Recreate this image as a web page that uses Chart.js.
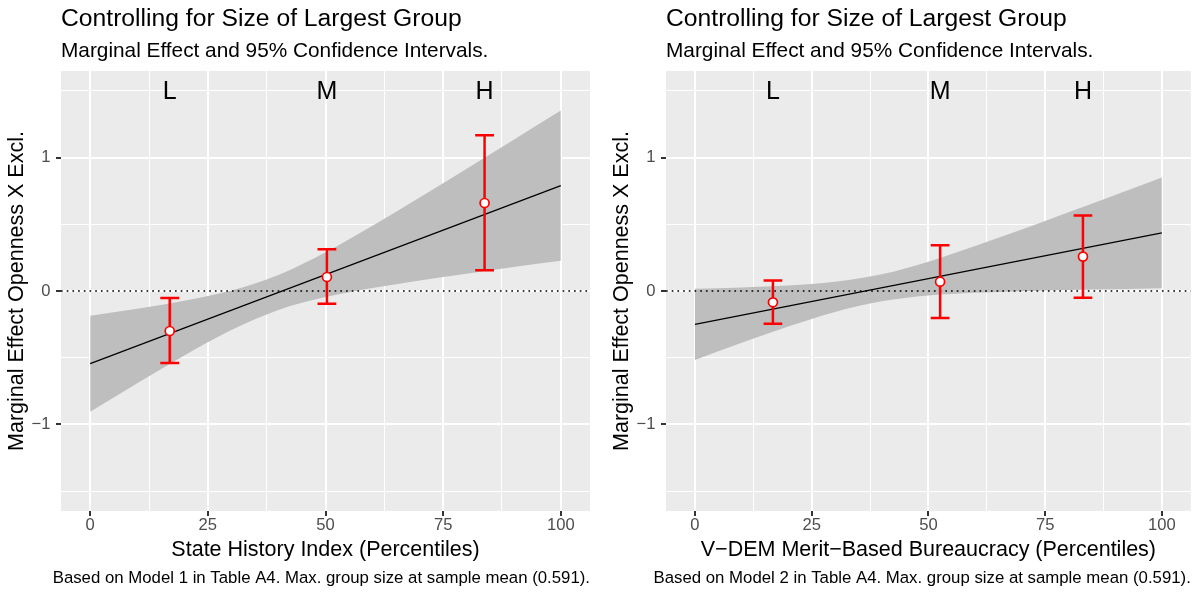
<!DOCTYPE html>
<html>
<head>
<meta charset="utf-8">
<script src="https://cdn.jsdelivr.net/npm/chart.js@4/dist/chart.umd.min.js"></script>
<style>
  body { margin: 0; background: #ffffff; }
  canvas { position: absolute; top: 0; }
</style>
</head>
<body>
<canvas id="left" width="605" height="592" style="left:0px"></canvas>
<canvas id="right" width="592" height="592" style="left:605px"></canvas>
<script>
// axis ticks and ranges
const xMajor = [0, 25, 50, 75, 100];
const xMinor = [12.5, 37.5, 62.5, 87.5];
const yMajor = [-1, 0, 1];
const yMinor = [-1.5, -0.5, 0.5, 1.5];
const xRange = [-6.2, 106.2];
const yRange = [-1.65, 1.65];
const groupLabels = ['L', 'M', 'H'];

// prediction line + confidence band, sampled along x
const ribbonX = [0, 10, 20, 30, 40, 50, 60, 70, 80, 90, 100];
const fitX = [0, 100];

// left panel: State History Index
const leftFit = [-0.545, 0.79];
const leftRibbonLo = [-0.905, -0.691, -0.483, -0.293, -0.142, -0.045, 0.022, 0.079, 0.130, 0.180, 0.227];
const leftRibbonHi = [-0.185, -0.133, -0.073, 0.003, 0.120, 0.291, 0.490, 0.701, 0.916, 1.134, 1.353];
const leftGroupX = [16.9, 50.3, 83.8];
const leftEst = [-0.30, 0.105, 0.66];
const leftLo = [-0.54, -0.095, 0.155];
const leftHi = [-0.053, 0.313, 1.168];

// right panel: V-DEM merit-based bureaucracy
const rightFit = [-0.25, 0.436];
const rightRibbonLo = [-0.517, -0.389, -0.267, -0.157, -0.077, -0.034, -0.013, -0.001, 0.008, 0.014, 0.020];
const rightRibbonHi = [0.017, 0.027, 0.041, 0.069, 0.125, 0.220, 0.337, 0.461, 0.590, 0.720, 0.852];
const rightGroupX = [16.7, 52.5, 83.1];
const rightEst = [-0.085, 0.07, 0.258];
const rightLo = [-0.246, -0.203, -0.05];
const rightHi = [0.078, 0.343, 0.566];

const FONT = "'Liberation Sans', Arial, Helvetica, sans-serif";
const minus = v => String(v).replace('-', '\u2212');

// panel background, error bars, group letters, titles
const panelPlugin = {
  id: 'panel',
  beforeDraw(chart) {
    const a = chart.chartArea, ctx = chart.ctx;
    ctx.save();
    ctx.fillStyle = '#EBEBEB';
    ctx.fillRect(a.left, a.top, a.right - a.left, a.bottom - a.top);
    ctx.restore();
  },
  beforeDatasetDraw(chart, args, opts) {
    if (args.index !== 4) return;
    const ctx = chart.ctx, xs = chart.scales.x, ys = chart.scales.y;
    ctx.save();
    ctx.strokeStyle = '#FF0000';
    ctx.lineWidth = 2.5;
    opts.groupX.forEach((gx, i) => {
      const px = xs.getPixelForValue(gx);
      const w = xs.getPixelForValue(gx + 2) - px;
      const top = ys.getPixelForValue(opts.hi[i]);
      const bot = ys.getPixelForValue(opts.lo[i]);
      ctx.beginPath();
      ctx.moveTo(px, top); ctx.lineTo(px, bot);
      ctx.moveTo(px - w, top); ctx.lineTo(px + w, top);
      ctx.moveTo(px - w, bot); ctx.lineTo(px + w, bot);
      ctx.stroke();
    });
    ctx.restore();
  },
  afterDraw(chart, args, opts) {
    const ctx = chart.ctx, a = chart.chartArea, xs = chart.scales.x, ys = chart.scales.y;
    ctx.save();
    ctx.fillStyle = '#000000';
    ctx.textAlign = 'center';
    ctx.textBaseline = 'middle';
    ctx.font = `25px ${FONT}`;
    groupLabels.forEach((t, i) => {
      ctx.fillText(t, xs.getPixelForValue(opts.groupX[i]), ys.getPixelForValue(1.5) + 1.5);
    });
    ctx.textBaseline = 'alphabetic';
    ctx.textAlign = 'left';
    ctx.font = `24.7px ${FONT}`;
    ctx.fillText(opts.title, a.left, 26);
    ctx.font = `20.8px ${FONT}`;
    ctx.fillText(opts.subtitle, a.left, 57);
    ctx.textAlign = 'right';
    ctx.font = `16.8px ${FONT}`;
    ctx.fillText(opts.caption, a.right, 583);
    ctx.restore();
  }
};

function makeChart(id, p) {
  const xyPairs = (xs, ys) => xs.map((x, i) => ({ x: x, y: ys[i] }));
  return new Chart(document.getElementById(id), {
    type: 'line',
    data: {
      datasets: [
        {
          data: xyPairs(ribbonX, p.ribbonLo),
          borderWidth: 0, pointRadius: 0, fill: false,
          cubicInterpolationMode: 'monotone', order: 10
        },
        {
          data: xyPairs(ribbonX, p.ribbonHi),
          borderWidth: 0, pointRadius: 0, fill: '-1',
          backgroundColor: '#BEBEBE',
          cubicInterpolationMode: 'monotone', order: 9
        },
        {
          data: xyPairs(fitX, p.fit),
          borderColor: '#000000', borderWidth: 1.2, pointRadius: 0, order: 8
        },
        {
          data: xyPairs(xRange, [0, 0]),
          borderColor: '#000000', borderWidth: 1.7, borderDash: [1.7, 4],
          pointRadius: 0, order: 7
        },
        {
          data: xyPairs(p.groupX, p.est),
          showLine: false, pointRadius: 4.5, pointBorderWidth: 1.7,
          pointBackgroundColor: '#FFFFFF', pointBorderColor: '#FF0000', order: 0
        }
      ]
    },
    options: {
      responsive: false,
      animation: false,
      events: [],
      layout: { padding: { left: 0, top: 71, right: p.padRight, bottom: 0 } },
      plugins: {
        legend: { display: false },
        tooltip: { enabled: false },
        panel: {
          title: 'Controlling for Size of Largest Group',
          subtitle: 'Marginal Effect and 95% Confidence Intervals.',
          caption: p.caption,
          groupX: p.groupX, lo: p.lo, hi: p.hi
        }
      },
      scales: {
        x: {
          type: 'linear', min: xRange[0], max: xRange[1],
          afterBuildTicks: s => { s.ticks = xMajor.concat(xMinor).sort((a, b) => a - b).map(v => ({ value: v })); },
          afterFit: s => { s.height = 81; },
          border: { display: false },
          grid: {
            color: '#FFFFFF',
            lineWidth: c => xMajor.includes(c.tick.value) ? 2 : 1,
            tickColor: c => xMajor.includes(c.tick.value) ? '#333333' : 'rgba(0,0,0,0)',
            tickLength: 5, tickWidth: 2
          },
          ticks: {
            autoSkip: false, maxRotation: 0, padding: 1.5,
            color: '#4D4D4D', font: { family: FONT, size: 16.6, lineHeight: 1 },
            callback: v => xMajor.includes(v) ? String(v) : ''
          },
          title: {
            display: true, text: p.xTitle, color: '#000000',
            font: { family: FONT, size: 21.5 }, padding: { top: 0, bottom: 29 }
          }
        },
        y: {
          type: 'linear', min: yRange[0], max: yRange[1],
          afterBuildTicks: s => { s.ticks = yMajor.concat(yMinor).sort((a, b) => a - b).map(v => ({ value: v })); },
          afterFit: s => { s.width = 61; },
          border: { display: false },
          grid: {
            color: '#FFFFFF',
            lineWidth: c => yMajor.includes(c.tick.value) ? 2 : 1,
            tickColor: c => yMajor.includes(c.tick.value) ? '#333333' : 'rgba(0,0,0,0)',
            tickLength: 5, tickWidth: 2
          },
          ticks: {
            autoSkip: false, padding: 5.5,
            color: '#4D4D4D', font: { family: FONT, size: 16.6 },
            callback: v => yMajor.includes(v) ? minus(v) : ''
          },
          title: {
            display: true, text: 'Marginal Effect Openness X Excl.', color: '#000000',
            font: { family: FONT, size: 21.5 }, padding: { top: 4, bottom: 0 }
          }
        }
      }
    },
    plugins: [panelPlugin]
  });
}

makeChart('left', {
  fit: leftFit, ribbonLo: leftRibbonLo, ribbonHi: leftRibbonHi,
  groupX: leftGroupX, est: leftEst, lo: leftLo, hi: leftHi,
  xTitle: 'State History Index (Percentiles)',
  caption: 'Based on Model 1 in Table A4. Max. group size at sample mean (0.591).',
  padRight: 15
});

makeChart('right', {
  fit: rightFit, ribbonLo: rightRibbonLo, ribbonHi: rightRibbonHi,
  groupX: rightGroupX, est: rightEst, lo: rightLo, hi: rightHi,
  xTitle: 'V\u2212DEM Merit\u2212Based Bureaucracy (Percentiles)',
  caption: 'Based on Model 2 in Table A4. Max. group size at sample mean (0.591).',
  padRight: 2
});
</script>
</body>
</html>
